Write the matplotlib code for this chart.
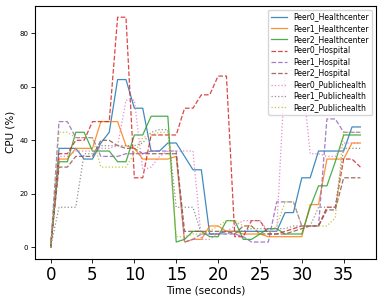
import matplotlib
matplotlib.use("Agg")
import matplotlib.pyplot as plt
import numpy as np

time_s = list(range(38))

peer0_healthcenter = [0, 37, 37, 37, 33, 33, 39, 43, 62.7, 62.7, 52, 52, 36, 36, 39, 39, 34, 29, 29, 5,
                      5, 6, 6, 6, 6, 6, 6, 6, 13, 13, 26, 26, 36, 36, 36, 36, 45, 45]
peer1_healthcenter = [0, 33, 33, 37, 37, 37, 47, 47, 47, 38, 37, 33, 33, 33, 33, 34, 2, 3, 3, 8,
                      8, 6, 6, 5, 5, 5, 4, 4, 4, 4, 4, 16, 16, 33, 33, 33, 39, 39]
peer2_healthcenter = [0, 32, 32, 43, 43, 36, 36, 36, 32, 32, 42, 42, 49, 49, 49, 2, 3, 6, 6, 4,
                      4, 10, 10, 3, 3, 5, 7, 7, 5, 5, 5, 15, 23, 23, 32, 42, 42, 42]
peer0_hospital = [0, 35, 35, 40, 40, 47, 47, 47, 86, 86, 26, 26, 42, 42, 42, 42, 52, 52, 57, 57,
                  64, 64, 4, 4, 10, 10, 5, 5, 6, 7, 8, 8, 8, 15, 15, 33, 33, 30]
peer1_hospital = [0, 47, 47, 41, 41, 41, 34, 34, 34, 35, 35, 35, 36, 36, 36, 36, 2, 3, 5, 5,
                  5, 5, 5, 4, 2, 2, 2, 17, 17, 17, 8, 8, 8, 48, 48, 43, 43, 43]
peer2_hospital = [0, 30, 30, 34, 34, 34, 40, 40, 38, 37, 37, 35, 35, 35, 35, 35, 6, 6, 6, 6,
                  6, 6, 5, 8, 8, 5, 5, 5, 5, 6, 7, 8, 8, 14, 14, 26, 26, 26]
peer0_publichealth = [0, 34, 34, 36, 36, 36, 37, 37, 38, 55, 55, 29, 30, 34, 36, 36, 36, 36, 3, 3,
                      5, 6, 8, 10, 10, 10, 6, 6, 66, 66, 66, 35, 35, 34, 34, 39, 39, 39]
peer1_publichealth = [0, 15, 15, 15, 35, 35, 38, 38, 38, 38, 38, 39, 43, 44, 44, 15, 15, 15, 5, 5,
                      5, 5, 6, 6, 7, 7, 7, 7, 7, 8, 8, 8, 15, 15, 15, 37, 37, 37]
peer2_publichealth = [0, 43, 43, 41, 41, 41, 30, 30, 30, 30, 35, 41, 42, 43, 43, 4, 4, 5, 5, 6,
                      8, 10, 10, 8, 8, 5, 5, 8, 17, 17, 8, 8, 8, 8, 11, 43, 43, 43]

series_names = ["Peer0_Healthcenter", "Peer1_Healthcenter", "Peer2_Healthcenter",
                "Peer0_Hospital", "Peer1_Hospital", "Peer2_Hospital",
                "Peer0_Publichealth", "Peer1_Publichealth", "Peer2_Publichealth"]
series_values = [peer0_healthcenter, peer1_healthcenter, peer2_healthcenter,
                 peer0_hospital, peer1_hospital, peer2_hospital,
                 peer0_publichealth, peer1_publichealth, peer2_publichealth]
styles = ["-", "-", "-", "--", "--", "--", ":", ":", ":"]
colors = ["tab:blue", "tab:orange", "tab:green", "tab:red", "tab:purple", "tab:brown",
          "tab:pink", "tab:gray", "tab:olive"]

fig = plt.figure(figsize=(3.82, 3.0), dpi=100)
ax = fig.add_axes([0.092, 0.137, 0.892, 0.844])
for name, vals, ls, c in zip(series_names, series_values, styles, colors):
    ax.plot(time_s, vals, ls, color=c, lw=0.9, label=name, alpha=0.85)

ax.set_xticks([0, 5, 10, 15, 20, 25, 30, 35])
ax.set_yticks([0, 20, 40, 60, 80])
ax.tick_params(axis="x", labelsize=12, length=3, width=0.6, pad=2)
ax.tick_params(axis="y", labelsize=5, length=3, width=0.6, pad=2)
ax.set_xlabel("Time (seconds)", fontsize=7.5, labelpad=1)
ax.set_ylabel("CPU (%)", fontsize=7.5, labelpad=3)
for s in ax.spines.values():
    s.set_linewidth(0.8)
ax.legend(loc="upper right", fontsize=5.5, handlelength=2.1, labelspacing=0.3,
          borderaxespad=0.5, framealpha=0.8)

fig.savefig("out.png", dpi=100)
